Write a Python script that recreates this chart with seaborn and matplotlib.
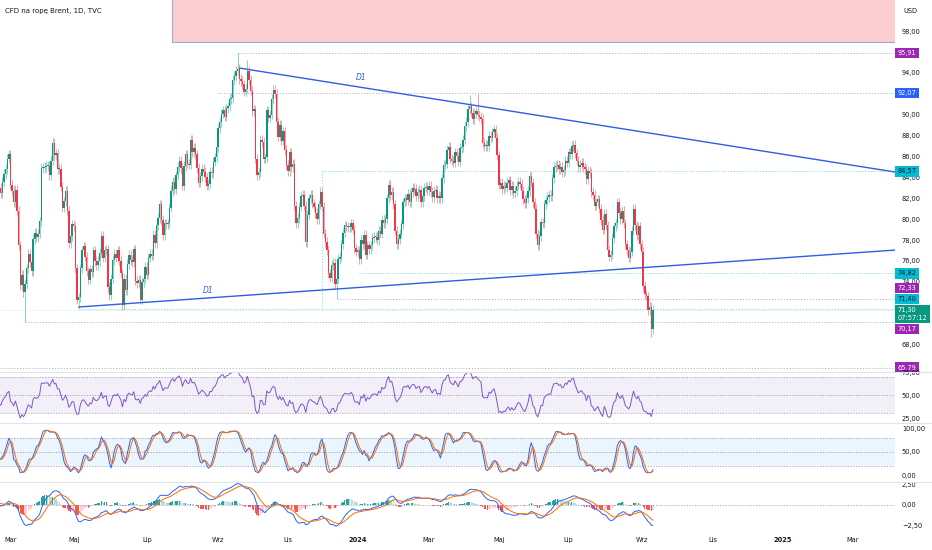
import numpy as np
import pandas as pd
import seaborn as sns
import matplotlib
matplotlib.use('Agg')
import matplotlib.pyplot as plt
from matplotlib.patches import Rectangle
from matplotlib.lines import Line2D

# daily closes of the Brent CFD (TVC), one list per month
feb23 = [82.8, 82.2, 79.9, 81.0, 83.7, 85.1, 84.5, 86.4, 86.6, 85.6, 85.4, 85.1, 83.0, 84.1, 83.1,
         80.9, 82.2, 83.0, 82.5, 83.6]
mar23 = [84.3, 84.8, 85.8, 86.2, 83.3, 82.7, 81.6, 82.8, 80.8, 77.5, 73.7, 74.7, 73.0, 73.8, 75.3,
         76.7, 75.9, 75.0, 78.1, 78.7, 78.3, 78.6, 79.8]
apr23 = [84.9, 84.9, 85.0, 85.1, 85.1, 84.2, 85.6, 87.3, 86.1, 86.3, 84.8, 84.8, 83.1, 81.1, 81.7,
         82.7, 80.8, 77.7, 78.4, 79.5]
may23 = [79.3, 75.3, 72.3, 72.5, 75.3, 77.0, 77.4, 76.4, 75.0, 74.2, 75.2, 74.9, 77.0, 76.0, 75.6,
         76.0, 76.8, 78.4, 76.3, 77.0, 77.1, 73.5, 72.7]
jun23 = [74.3, 76.1, 76.7, 76.3, 77.0, 76.0, 74.8, 71.8, 74.3, 73.2, 75.7, 76.6, 76.1, 75.9, 77.1,
         74.1, 73.9, 74.2, 72.3, 74.0, 74.3, 75.4]
jul23 = [74.7, 76.3, 76.7, 76.5, 78.5, 77.7, 79.4, 80.1, 81.4, 79.9, 78.5, 79.6, 79.5, 79.6, 81.1,
         82.7, 83.6, 82.9, 84.2, 85.0, 85.6]
aug23 = [84.9, 83.2, 85.1, 86.2, 85.3, 85.2, 87.6, 86.4, 86.8, 86.2, 84.9, 83.5, 84.1, 84.8, 84.5,
         84.0, 83.2, 83.4, 84.5, 84.4, 85.5, 85.9, 86.9]
sep23 = [88.7, 89.3, 90.1, 90.4, 89.8, 90.6, 90.8, 91.5, 91.6, 93.3, 93.7, 94.2, 94.4, 93.4, 93.2,
         92.9, 92.2, 92.5, 94.2, 93.3, 92.3]
oct23 = [90.3, 90.5, 85.8, 84.2, 84.5, 87.6, 87.4, 85.8, 85.9, 90.4, 89.7, 90.0, 91.5, 92.4, 92.0,
         89.3, 87.9, 89.0, 87.5, 88.4, 86.6, 85.2]
nov23 = [84.6, 86.4, 85.0, 85.3, 81.3, 79.6, 80.1, 81.2, 82.2, 82.3, 81.3, 77.8, 80.4, 82.0, 82.3,
         81.5, 81.2, 80.6, 80.0, 81.4, 82.6, 81.2]
dec23 = [78.6, 77.8, 77.0, 74.8, 74.4, 75.6, 75.8, 73.8, 74.3, 76.2, 76.4, 77.6, 78.7, 79.4, 79.3,
         79.2, 79.2, 79.6, 79.0, 77.2, 76.9]
jan24 = [77.0, 76.2, 78.0, 77.6, 78.5, 76.6, 77.5, 77.1, 77.5, 78.2, 78.3, 78.3, 78.0, 78.9, 78.6,
         79.9, 79.6, 80.0, 82.0, 83.3, 82.3, 82.6, 81.4]
feb24 = [78.9, 77.6, 78.1, 78.6, 79.5, 81.6, 82.0, 81.8, 82.4, 81.6, 82.6, 83.0, 82.9, 82.2, 82.6,
         82.8, 81.6, 82.2, 83.0, 83.1, 82.8]
mar24 = [83.2, 82.6, 82.1, 82.7, 82.8, 82.0, 82.2, 82.0, 83.9, 85.2, 85.3, 86.6, 86.9, 85.8, 85.6,
         85.4, 86.4, 86.0, 85.5, 86.8, 86.9]
apr24 = [87.6, 88.9, 89.3, 90.5, 90.8, 90.2, 89.6, 90.1, 90.3, 90.0, 89.8, 89.6, 87.3, 87.0, 87.1,
         87.0, 88.0, 87.8, 88.3, 88.6, 87.8, 86.1]
may24 = [83.3, 83.5, 82.9, 83.2, 83.0, 83.5, 83.7, 82.8, 83.2, 82.5, 82.7, 83.2, 83.6, 83.4, 82.7,
         81.9, 81.5, 82.0, 82.7, 84.1, 83.5, 81.6, 81.0]
jun24 = [78.6, 77.5, 78.4, 79.7, 79.6, 81.4, 81.8, 82.1, 82.3, 82.2, 83.9, 85.0, 85.1, 85.2, 84.8,
         85.0, 84.5, 84.7, 85.6, 85.4]
jul24 = [86.4, 86.2, 87.0, 87.1, 86.3, 85.6, 85.0, 85.2, 85.4, 85.0, 84.8, 83.8, 84.6, 84.4, 82.6,
         82.3, 81.3, 81.6, 81.9, 81.0, 79.9, 79.0, 80.5]
aug24 = [79.4, 77.0, 76.4, 76.6, 78.2, 79.3, 79.6, 81.6, 80.6, 80.0, 80.8, 79.6, 77.6, 77.0, 76.3,
         76.9, 78.9, 81.0, 79.4, 78.5, 79.3, 77.6]
sep24 = [76.9, 73.6, 72.8, 72.6, 71.3, 71.6, 69.5, 71.3]

# the few long wicks that stand out
wick_high = {'2023-09-19': 95.9, '2023-09-27': 95.2, '2024-04-05': 91.9, '2024-04-12': 92.0}
wick_low = {'2023-03-20': 70.17, '2023-05-04': 71.4, '2023-12-13': 72.33, '2024-09-10': 68.7}

# horizontal levels drawn on the chart
levels = [95.91, 92.07, 84.57, 74.82, 72.33, 71.40, 70.17, 65.79]
level_from = ['2023-09-19', '2023-09-01', '2023-11-30', '2024-01-02', '2023-12-13',
              '2023-05-04', '2023-03-20', '2023-02-01']
level_kind = ['purple', 'blue', 'cyan', 'cyan', 'purple', 'cyan', 'purple', 'purple']
level_label_at = [95.91, 92.07, 84.57, 74.82, 73.41, 72.35, 69.48, 65.79]

# triangle lines "D1": (start date, start price, price at right edge)
tri_upper = ('2023-09-20', 94.46, 84.51)
tri_lower = ('2023-05-04', 71.59, 77.04)

last_price = 71.30
countdown = '07:57:12'

month_ticks = ['2023-03-01', '2023-05-01', '2023-07-03', '2023-09-01', '2023-11-01', '2024-01-01',
               '2024-03-01', '2024-05-01', '2024-07-01', '2024-09-02', '2024-11-01', '2025-01-01',
               '2025-03-03']
month_labels = ['Mar', 'Maj', 'Lip', 'Wrz', 'Lis', '2024', 'Mar', 'Maj', 'Lip', 'Wrz', 'Lis', '2025', 'Mar']
price_ticks = [68, 74, 76, 78, 80, 82, 84, 86, 88, 90, 94, 98]   # the rest sit under the level boxes

# ------------------------------------------------------------------
close = np.array(feb23 + mar23 + apr23 + may23 + jun23 + jul23 + aug23 + sep23 + oct23 + nov23 + dec23
                 + jan24 + feb24 + mar24 + apr24 + may24 + jun24 + jul24 + aug24 + sep24, dtype=float)
dates = pd.bdate_range('2023-02-01', periods=len(close))
all_days = pd.bdate_range('2023-02-01', '2025-06-30')
off = 20                      # bar index of 1 Mar 2023
pos = np.arange(len(close)) - off


def bar_of(d):
    return all_days.searchsorted(pd.Timestamp(d)) - off


opn = np.r_[close[0], close[:-1]]
top = np.maximum(opn, close)
bot = np.minimum(opn, close)
high = top + 0.45
low = bot - 0.45
for d, v in wick_high.items():
    high[bar_of(d) + off] = v
for d, v in wick_low.items():
    low[bar_of(d) + off] = v
up = close >= opn

# indicators
s = pd.Series(close)
delta = s.diff()
gain = delta.clip(lower=0).ewm(alpha=1 / 14, adjust=False).mean()
loss = (-delta.clip(upper=0)).ewm(alpha=1 / 14, adjust=False).mean()
rsi = 100 - 100 / (1 + gain / loss)

hh = pd.Series(high).rolling(14, min_periods=1).max()
ll = pd.Series(low).rolling(14, min_periods=1).min()
k = (100 * (s - ll) / (hh - ll)).rolling(3, min_periods=1).mean()
d_line = k.rolling(3, min_periods=1).mean()

macd = s.ewm(span=12, adjust=False).mean() - s.ewm(span=26, adjust=False).mean()
signal = macd.ewm(span=9, adjust=False).mean()
hist = macd - signal
prev = hist.shift(1).fillna(0)
hist_col = np.where(hist >= 0, np.where(hist >= prev, '#26a69a', '#b2dfdb'),
                    np.where(hist < prev, '#ff5252', '#ffcdd2'))

# ------------------------------------------------------------------
sns.set_theme(style='white')
plt.rcParams['font.family'] = ['DejaVu Sans']
W, H = 932, 550
fig = plt.figure(figsize=(W / 100, H / 100), dpi=100)
fig.patch.set_facecolor('white')


def pane(y0, y1):
    return fig.add_axes([0, 1 - y1 / H, 895 / W, (y1 - y0) / H])


ax = pane(0, 372)
ax_rsi = pane(372, 423)
ax_st = pane(423, 482)
ax_m = pane(482, 530)

xl = (-2.47, 549.2)
txt = '#131722'
fs = 4.8
for a in (ax, ax_rsi, ax_st, ax_m):
    a.set_xlim(*xl)
    a.set_facecolor('white')
    for sp in a.spines.values():
        sp.set_visible(False)
    a.yaxis.tick_right()
    a.tick_params(axis='y', length=0, pad=5, labelsize=fs, labelcolor=txt)
    a.tick_params(axis='x', length=0, labelbottom=False)
    a.grid(False)

# main pane -------------------------------------------------------
ax.set_ylim(65.37, 100.97)
ax.set_yticks(price_ticks)
ax.set_yticklabels([f'{v:.2f}'.replace('.', ',') for v in price_ticks])

ax.add_patch(Rectangle((bar_of('2023-07-25') - 0.5, 96.95), 600, 6, facecolor='#fccdd1',
                       edgecolor='#9fa8da', linewidth=0.8, zorder=1))

line_col = {'purple': '#b2b5be', 'blue': '#b2b5be', 'cyan': '#80deea'}
box_col = {'purple': '#9c27b0', 'blue': '#2962ff', 'cyan': '#00bcd4'}
box_txt = {'purple': 'white', 'blue': 'white', 'cyan': txt}
for lv, st, kd in zip(levels, level_from, level_kind):
    ax.hlines(lv, bar_of(st), xl[1], colors=line_col[kd], linestyles=(0, (1.2, 1.8)), linewidth=0.7, zorder=2)
ax.vlines(bar_of('2023-11-30'), 71.40, 84.57, colors='#80deea', linestyles=(0, (1.2, 1.8)), linewidth=0.7)
ax.axhline(last_price, color='#089981', alpha=0.35, linewidth=0.5, linestyle=(0, (1, 2)))

wick_c = np.where(up, '#8fd3c6', '#f5a0a8')
body_c = np.where(up, '#089981', '#f23645')
ax.vlines(pos, low, high, colors=wick_c, linewidth=0.7, zorder=3)
ax.bar(pos, np.maximum(top - bot, 0.12), bottom=bot, width=0.88, color=body_c, linewidth=0, zorder=4)

for (st, p0, p1), lx, ly in ((tri_upper, '2024-01-03', 93.6), (tri_lower, '2023-08-24', 73.2)):
    ax.plot([bar_of(st), xl[1]], [p0, p1], color='#2f5fe0', linewidth=1.0, zorder=5)
    ax.text(bar_of(lx), ly, 'D1', color='#2f5fe0', fontsize=5.5, style='italic', ha='center', va='center')

for lv, at, kd in zip(levels, level_label_at, level_kind):
    ax.text(1.003, at, f'{lv:.2f}'.replace('.', ','), transform=ax.get_yaxis_transform(), ha='left',
            va='center', fontsize=fs, color=box_txt[kd], clip_on=False, zorder=10,
            bbox=dict(boxstyle='square,pad=0.35', fc=box_col[kd], ec='none'))
ax.text(1.003, 70.92, f'{last_price:.2f}'.replace('.', ',') + '\n' + countdown,
        transform=ax.get_yaxis_transform(), ha='left', va='center', fontsize=fs, color='white',
        linespacing=1.3, clip_on=False, zorder=11,
        bbox=dict(boxstyle='square,pad=0.35', fc='#089981', ec='none'))

# RSI pane --------------------------------------------------------
ax_rsi.set_ylim(19.6, 75)
ax_rsi.axhspan(30, 70, color='#7e57c2', alpha=0.09, linewidth=0)
for v in (70, 50, 30):
    ax_rsi.axhline(v, color='#9598a1', linewidth=0.5, linestyle=(0, (2, 2)))
sns.lineplot(x=pos, y=rsi.values, ax=ax_rsi, color='#7e57c2', linewidth=0.7)
ax_rsi.set_yticks([75, 50, 25])
ax_rsi.set_yticklabels(['75,00', '50,00', '25,00'])

# Stochastic pane -------------------------------------------------
ax_st.set_ylim(-15.2, 113)
ax_st.axhspan(20, 80, color='#2196f3', alpha=0.09, linewidth=0)
for v in (80, 50, 20):
    ax_st.axhline(v, color='#9598a1', linewidth=0.5, linestyle=(0, (2, 2)))
sns.lineplot(x=pos, y=k.values, ax=ax_st, color='#2962ff', linewidth=0.7)
sns.lineplot(x=pos, y=d_line.values, ax=ax_st, color='#ff6d00', linewidth=0.7)
ax_st.set_yticks([100, 50, 0])
ax_st.set_yticklabels(['100,00', '50,00', '0,00'])

# MACD pane -------------------------------------------------------
ax_m.set_ylim(-2.98, 2.74)
ax_m.axhline(0, color='#9598a1', linewidth=0.5, linestyle=(0, (2, 2)))
ax_m.bar(pos, hist.values, width=0.8, color=hist_col, linewidth=0)
sns.lineplot(x=pos, y=macd.values, ax=ax_m, color='#2962ff', linewidth=0.7)
sns.lineplot(x=pos, y=signal.values, ax=ax_m, color='#ff6d00', linewidth=0.7)
ax_m.set_yticks([2.5, 0, -2.5])
ax_m.set_yticklabels(['2,50', '0,00', '\u22122,50'])

ax_m.set_xticks([bar_of(m) for m in month_ticks])
ax_m.set_xticklabels(month_labels)
ax_m.tick_params(axis='x', labelbottom=True, labelsize=fs, labelcolor=txt, pad=5)
for t in ax_m.get_xticklabels():
    if t.get_text().isdigit():
        t.set_fontweight('bold')
ax_m.get_xticklabels()[0].set_horizontalalignment('left')   # first month sits at the very edge
for a in (ax, ax_rsi, ax_st, ax_m):
    a.set_xlabel('')
    a.set_ylabel('')

# pane separators and texts
for y in (372, 423, 482):
    fig.add_artist(Line2D([0, 1], [1 - y / H, 1 - y / H], transform=fig.transFigure,
                          color='#e0e3eb', linewidth=0.8))
fig.text(5 / W, 1 - 11 / H, 'CFD na ropę Brent, 1D, TVC', fontsize=5, color=txt, va='center')
fig.text(903 / W, 1 - 11 / H, 'USD', fontsize=fs, color=txt, va='center')

fig.savefig('out.png', dpi=100, facecolor='white')
